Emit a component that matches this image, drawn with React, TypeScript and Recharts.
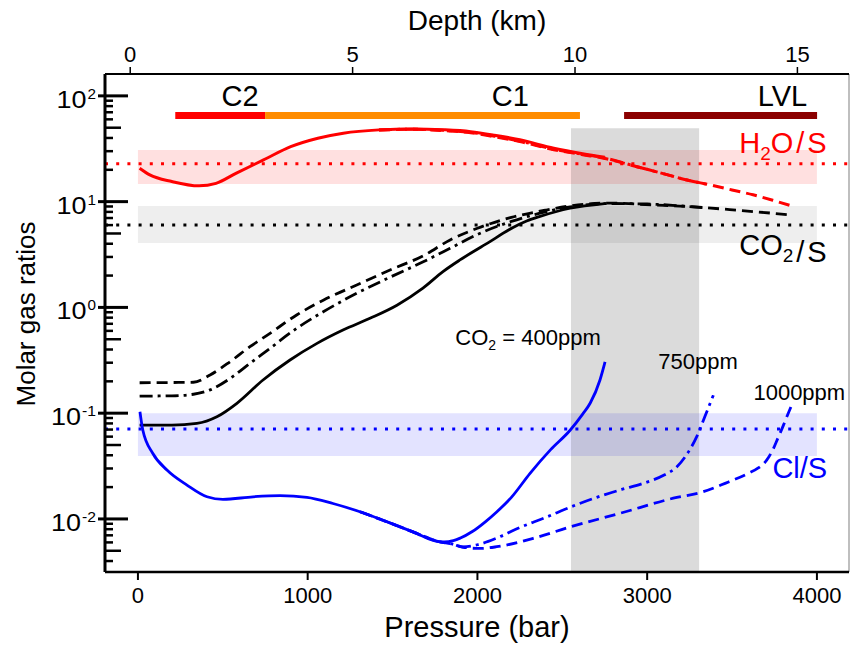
import React from 'react';
import { LineChart, Line, XAxis, YAxis, ReferenceArea, ReferenceLine, ReferenceDot } from 'recharts';

const FONT = '"Liberation Sans", Arial, Helvetica, sans-serif';

// ---------- axes ----------
const pressureTicks = [0, 1000, 2000, 3000, 4000];
const depthTicks = [0, 5, 10, 15];
const ratioTicks = [
  0.004, 0.005, 0.006, 0.007, 0.008, 0.009,
  0.01, 0.02, 0.03, 0.04, 0.05, 0.06, 0.07, 0.08, 0.09,
  0.1, 0.2, 0.3, 0.4, 0.5, 0.6, 0.7, 0.8, 0.9,
  1, 2, 3, 4, 5, 6, 7, 8, 9,
  10, 20, 30, 40, 50, 60, 70, 80, 90,
  100,
];
const pressureDomain = [-194, 4189];
const depthDomain = [-0.567, 16.16];
const ratioDomain = [0.00315, 161];
// invisible anchor so the depth axis gets a scale
const depthAnchorV = [1, 1, 1, 1];

// ---------- H2O/S ----------
const h2oP400 = [10, 70, 200, 360, 460, 580, 740, 900, 1060, 1210, 1420, 1620, 1800, 1960, 2100, 2250, 2450, 2620, 2750];
const h2oV400 = [20.7, 17.9, 15.5, 14.1, 14.9, 18.6, 24.8, 33.1, 39.8, 44.4, 47.7, 48.7, 47.8, 45.9, 42.5, 38.4, 32.0, 28.4, 26.3];
const h2oP750 = [1420, 1620, 1800, 1960, 2100, 2250, 2450, 2620, 2750, 2940, 3100, 3235, 3350];
const h2oV750 = [47.6, 48.4, 47.2, 45.2, 41.6, 37.4, 31.3, 28.0, 25.9, 21.4, 18.3, 16.0, 14.6];
const h2oP1000 = [1420, 1620, 1800, 1960, 2100, 2250, 2450, 2620, 2750, 2940, 3100, 3235, 3371, 3500, 3624, 3740, 3842];
const h2oV1000 = [47.5, 48.3, 47.0, 44.8, 41.0, 37.0, 31.0, 27.8, 25.6, 21.4, 18.3, 16.0, 14.4, 12.9, 11.6, 10.3, 9.2];

// ---------- CO2/S ----------
const co2P400 = [10, 200, 347, 465, 583, 737, 896, 1055, 1208, 1367, 1526, 1679, 1797, 1897, 2057, 2210, 2290, 2369, 2546, 2750];
const co2V400 = [0.077, 0.077, 0.080, 0.0925, 0.124, 0.206, 0.318, 0.457, 0.611, 0.789, 1.05, 1.52, 2.18, 2.81, 4.03, 5.70, 6.55, 7.25, 8.66, 9.6];
const co2P750 = [10, 200, 327, 425, 543, 660, 778, 935, 1092, 1289, 1485, 1681, 1839, 2000, 2200, 2400, 2546, 2764, 3000, 3200, 3353];
const co2V750 = [0.145, 0.146, 0.151, 0.166, 0.213, 0.296, 0.410, 0.634, 0.91, 1.36, 1.93, 2.70, 3.62, 4.9, 6.5, 8.0, 8.9, 9.6, 9.5, 9.1, 8.7];
const co2P1000 = [10, 200, 327, 425, 543, 660, 778, 935, 1092, 1289, 1485, 1681, 1839, 2000, 2200, 2400, 2546, 2764, 3035, 3235, 3530, 3842];
const co2V1000 = [0.194, 0.195, 0.196, 0.2295, 0.307, 0.425, 0.569, 0.848, 1.17, 1.63, 2.26, 3.08, 4.34, 5.6, 7.1, 8.3, 9.1, 9.7, 9.3, 9.0, 8.3, 7.5];

// ---------- Cl/S ----------
const clP400 = [12, 29, 88, 171, 289, 407, 501, 678, 837, 996, 1149, 1308, 1467, 1620, 1780, 1830, 1900, 1970, 2050, 2115, 2200, 2310, 2430, 2546, 2620, 2664, 2722, 2752];
const clV400 = [0.103, 0.069, 0.0416, 0.029, 0.0209, 0.0162, 0.0153, 0.0162, 0.0166, 0.016, 0.0140, 0.0117, 0.0094, 0.00755, 0.00607, 0.0061, 0.0066, 0.0076, 0.0095, 0.0117, 0.0160, 0.027, 0.045, 0.069, 0.098, 0.124, 0.206, 0.306];
const clP750 = [1308, 1467, 1620, 1780, 1850, 1915, 2000, 2114, 2250, 2400, 2551, 2703, 2850, 2977, 3100, 3174, 3230, 3292, 3340, 3390];
const clV750 = [0.0117, 0.0094, 0.00755, 0.00607, 0.0058, 0.00545, 0.0057, 0.0066, 0.0083, 0.0103, 0.0130, 0.0160, 0.0190, 0.0217, 0.026, 0.031, 0.040, 0.060, 0.093, 0.148];
const clP1000 = [1308, 1467, 1620, 1780, 1850, 1915, 2015, 2114, 2329, 2546, 2840, 3154, 3331, 3459, 3596, 3650, 3704, 3740, 3770, 3800, 3822, 3851];
const clV1000 = [0.0117, 0.0094, 0.00755, 0.00607, 0.0058, 0.0054, 0.00526, 0.00546, 0.00656, 0.0084, 0.0113, 0.0157, 0.0181, 0.0217, 0.027, 0.030, 0.036, 0.045, 0.058, 0.075, 0.092, 0.119];

// ---------- reference ranges (observed ratios) ----------
const h2oBand = [14.7, 30.8];
const h2oObserved = 22.8;
const co2Band = [4.07, 9.1];
const co2Observed = 6.02;
const clBand = [0.0393, 0.1];
const clObserved = 0.0708;
const shadedPressure = [2551, 3306];
const shadedTop = 49.4;
const bandPressure = [0, 4000];

// ---------- storage zones ----------
const zoneNames = ['C2', 'C1', 'LVL'];
const zoneFrom = [220, 749, 2864];
const zoneTo = [749, 2604, 4001];
const zoneLevel = 65.3;
const zoneLabelP = [602, 2194, 3797];
const zoneLabelLevel = 80.3;

const zip = (ps: number[], vs: number[]) => ps.map((p, i) => ({ p, v: vs[i] }));

const RED = '#ff0000';
const BLUE = '#0000ff';
const BLACK = '#000000';
const zoneColors = ['#ff0000', '#ff8c00', '#8b0000'];

const DASH = '11 6';
const DASHDOT = '13 5 3 5';
const DOTS = '3 8.2';
const LW = 2.8;

const TICK_SIZE = 7;
const TICK_MARGIN = 4;

const YTick = (props: any) => {
  const { x, y, payload } = props;
  const v = payload.value as number;
  const ax = x + TICK_SIZE + TICK_MARGIN;
  const lg = Math.log10(v);
  const e = Math.round(lg);
  const isMajor = Math.abs(lg - e) < 1e-6;
  const mant = Math.round(v / Math.pow(10, Math.floor(lg + 1e-9)));
  const len = isMajor ? 23 : mant === 5 ? 16 : 8;
  const expStr = String(e);
  const expW = e < 0 ? 14 : 8.5;
  const right = ax - 9;
  return (
    <g>
      <line x1={isMajor ? ax - 7 : ax} x2={ax + len} y1={y} y2={y} stroke="#000" strokeWidth={isMajor ? 3 : 2.5} />
      {isMajor && (
        <g fontFamily={FONT} fill="#000">
          <text x={right - expW - 1 - 30} y={y + 12} textAnchor="start" fontSize={23} textLength={30} lengthAdjust="spacingAndGlyphs">10</text>
          <text x={right - expW} y={y + 3} textAnchor="start" fontSize={15} textLength={expW} lengthAdjust="spacingAndGlyphs">{expStr}</text>
        </g>
      )}
    </g>
  );
};

const vbCenter = (props: any) => {
  const vb = props.viewBox || {};
  return { x: (vb.x ?? 0) + (vb.width ?? 0) / 2, y: (vb.y ?? 0) + (vb.height ?? 0) / 2 };
};

const SlashLabel = (color: string, head: string, sub: string, mid: string, tail: string) => (props: any) => {
  const { x, y } = vbCenter(props);
  return (
    <text x={x} y={y} textAnchor="middle" fontSize={29} fontFamily={FONT} fill={color}>
      {head}
      <tspan fontSize={19} dy={7}>{sub}</tspan>
      <tspan dy={-7}>{mid}</tspan>
      <tspan dx={3}>/</tspan>
      <tspan dx={3}>{tail}</tspan>
    </text>
  );
};

const ClLabel = (props: any) => {
  const { x, y } = vbCenter(props);
  return (
    <text x={x} y={y} textAnchor="middle" fontSize={29} fontFamily={FONT} fill={BLUE}>Cl/S</text>
  );
};

const Co2PpmLabel = (props: any) => {
  const { x, y } = vbCenter(props);
  return (
    <text x={x} y={y} textAnchor="start" fontSize={22} fontFamily={FONT} fill={BLACK}>
      CO<tspan fontSize={14} dy={5}>2</tspan><tspan dy={-5}> = 400ppm</tspan>
    </text>
  );
};

const PlainLabel = (txt: string, size: number, anchor: string) => (props: any) => {
  const { x, y } = vbCenter(props);
  return (
    <text x={x} y={y} textAnchor={anchor as any} fontSize={size} fontFamily={FONT} fill={BLACK}>{txt}</text>
  );
};

const PressureLabel = (props: any) => {
  const vb = props.viewBox || { x: 105, y: 572, width: 744, height: 76 };
  return (
    <text x={vb.x + vb.width / 2} y={vb.y + 65} textAnchor="middle" fontSize={29} fontFamily={FONT} fill="#000">Pressure (bar)</text>
  );
};

const DepthLabel = (props: any) => {
  const vb = props.viewBox || { x: 105, y: 0, width: 744, height: 74 };
  return (
    <text x={vb.x + vb.width / 2} y={vb.y + 30} textAnchor="middle" fontSize={28} fontFamily={FONT} fill="#000">Depth (km)</text>
  );
};

const RatioLabel = (props: any) => {
  const vb = props.viewBox || { x: 0, y: 74, width: 105, height: 498 };
  const cx = vb.x + 35;
  const cy = vb.y + vb.height / 2 - 9;
  return (
    <text x={cx} y={cy} transform={`rotate(-90, ${cx}, ${cy})`} textAnchor="middle" fontSize={26} fontFamily={FONT} fill="#000">Molar gas ratios</text>
  );
};

export default function App() {
  const tickStyle = { fill: '#000', fontSize: 22, fontFamily: FONT };
  return (
    <div style={{ position: 'absolute', left: 0, top: 0, background: '#fff' }}>
      <LineChart width={850} height={648} margin={{ top: 0, right: 1, bottom: 0, left: 0 }}>
        <XAxis
          type="number"
          dataKey="p"
          domain={pressureDomain}
          allowDataOverflow
          ticks={pressureTicks}
          interval={0}
          height={76}
          tickSize={8}
          tickMargin={7}
          tick={tickStyle}
          axisLine={{ stroke: '#000', strokeWidth: 2.5 }}
          tickLine={{ stroke: '#000', strokeWidth: 2 }}
          label={PressureLabel}
        />
        <XAxis
          xAxisId="d"
          orientation="top"
          type="number"
          dataKey="p"
          domain={depthDomain}
          allowDataOverflow
          ticks={depthTicks}
          interval={0}
          height={74}
          tickSize={7}
          tickMargin={5}
          tick={tickStyle}
          axisLine={{ stroke: '#000', strokeWidth: 2 }}
          tickLine={{ stroke: '#000', strokeWidth: 1.5 }}
          label={DepthLabel}
        />
        <YAxis
          type="number"
          scale="log"
          domain={ratioDomain}
          allowDataOverflow
          ticks={ratioTicks}
          interval={0}
          width={105}
          tickSize={TICK_SIZE}
          tickMargin={TICK_MARGIN}
          tickLine={false}
          tick={<YTick />}
          axisLine={{ stroke: '#000', strokeWidth: 3 }}
          label={RatioLabel}
        />

        {/* observed ranges */}
        <ReferenceArea x1={bandPressure[0]} x2={bandPressure[1]} y1={h2oBand[0]} y2={h2oBand[1]} fill={RED} fillOpacity={0.12} stroke="none" />
        <ReferenceArea x1={bandPressure[0]} x2={bandPressure[1]} y1={co2Band[0]} y2={co2Band[1]} fill="#000" fillOpacity={0.065} stroke="none" />
        <ReferenceArea x1={bandPressure[0]} x2={bandPressure[1]} y1={clBand[0]} y2={clBand[1]} fill={BLUE} fillOpacity={0.11} stroke="none" />
        <ReferenceArea x1={shadedPressure[0]} x2={shadedPressure[1]} y1={ratioDomain[0]} y2={shadedTop} fill="#000" fillOpacity={0.14} stroke="none" />

        <ReferenceLine y={h2oObserved} stroke={RED} strokeWidth={3} strokeDasharray={DOTS} />
        <ReferenceLine y={co2Observed} stroke={BLACK} strokeWidth={3} strokeDasharray={DOTS} />
        <ReferenceLine y={clObserved} stroke={BLUE} strokeWidth={3} strokeDasharray={DOTS} />
        <ReferenceLine x={pressureDomain[1]} stroke="#aaa" strokeWidth={1.5} ifOverflow="visible" />

        {/* hidden helper for the depth axis */}
        <Line xAxisId="d" data={zip(depthTicks, depthAnchorV)} dataKey="v" stroke="none" strokeWidth={0} dot={false} activeDot={false} isAnimationActive={false} />

        {/* storage zones */}
        {zoneNames.map((n, i) => (
          <Line
            key={'zone-' + n}
            data={zip([zoneFrom[i], zoneTo[i]], [zoneLevel, zoneLevel])}
            dataKey="v"
            type="linear"
            stroke={zoneColors[i]}
            strokeWidth={7}
            dot={false}
            activeDot={false}
            isAnimationActive={false}
          />
        ))}

        {/* H2O/S */}
        <Line data={zip(h2oP1000, h2oV1000)} dataKey="v" type="monotone" stroke={RED} strokeWidth={3} strokeDasharray={DASH} dot={false} activeDot={false} isAnimationActive={false} />
        <Line data={zip(h2oP750, h2oV750)} dataKey="v" type="monotone" stroke={RED} strokeWidth={3} strokeDasharray={DASHDOT} dot={false} activeDot={false} isAnimationActive={false} />
        <Line data={zip(h2oP400, h2oV400)} dataKey="v" type="monotone" stroke={RED} strokeWidth={3} dot={false} activeDot={false} isAnimationActive={false} />

        {/* CO2/S */}
        <Line data={zip(co2P1000, co2V1000)} dataKey="v" type="monotone" stroke={BLACK} strokeWidth={LW} strokeDasharray={DASH} dot={false} activeDot={false} isAnimationActive={false} />
        <Line data={zip(co2P750, co2V750)} dataKey="v" type="monotone" stroke={BLACK} strokeWidth={LW} strokeDasharray={DASHDOT} dot={false} activeDot={false} isAnimationActive={false} />
        <Line data={zip(co2P400, co2V400)} dataKey="v" type="monotone" stroke={BLACK} strokeWidth={LW} dot={false} activeDot={false} isAnimationActive={false} />

        {/* Cl/S */}
        <Line data={zip(clP1000, clV1000)} dataKey="v" type="monotone" stroke={BLUE} strokeWidth={LW} strokeDasharray={DASH} dot={false} activeDot={false} isAnimationActive={false} />
        <Line data={zip(clP750, clV750)} dataKey="v" type="monotone" stroke={BLUE} strokeWidth={LW} strokeDasharray={DASHDOT} dot={false} activeDot={false} isAnimationActive={false} />
        <Line data={zip(clP400, clV400)} dataKey="v" type="monotone" stroke={BLUE} strokeWidth={LW} dot={false} activeDot={false} isAnimationActive={false} />

        {/* annotations */}
        {zoneNames.map((n, i) => (
          <ReferenceDot key={'zl-' + n} x={zoneLabelP[i]} y={zoneLabelLevel} r={0} fill="none" stroke="none" label={PlainLabel(n, 29, 'middle')} />
        ))}
        <ReferenceDot x={3800} y={28.8} r={0} fill="none" stroke="none" label={SlashLabel(RED, 'H', '2', 'O', 'S')} />
        <ReferenceDot x={3800} y={3.13} r={0} fill="none" stroke="none" label={SlashLabel(BLACK, 'CO', '2', '', 'S')} />
        <ReferenceDot x={3899} y={0.0243} r={0} fill="none" stroke="none" label={ClLabel} />
        <ReferenceDot x={1870} y={0.442} r={0} fill="none" stroke="none" label={Co2PpmLabel} />
        <ReferenceDot x={3066} y={0.262} r={0} fill="none" stroke="none" label={PlainLabel('750ppm', 22, 'start')} />
        <ReferenceDot x={3626} y={0.134} r={0} fill="none" stroke="none" label={PlainLabel('1000ppm', 22, 'start')} />
      </LineChart>
    </div>
  );
}
